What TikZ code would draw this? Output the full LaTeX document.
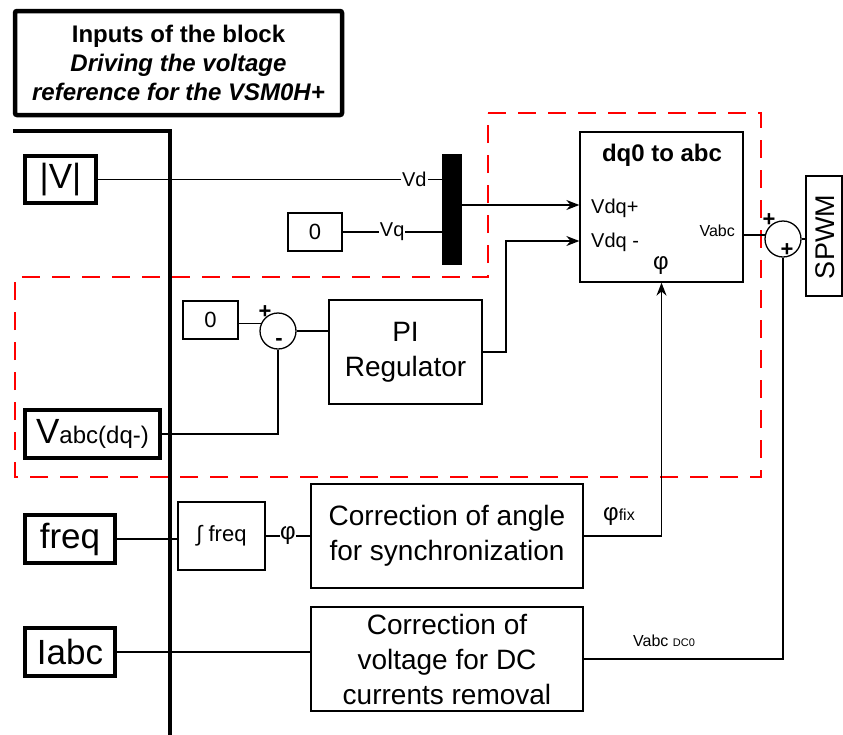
\documentclass[tikz,border=0pt]{standalone}
\usepackage{fontspec}
\setmainfont{Liberation Sans}
\usetikzlibrary{arrows.meta}
\begin{document}
\begin{tikzpicture}[x=1pt,y=-1pt,
  thin/.style={line width=1.3pt},
  arr/.style={thin,-{Stealth[length=13pt,width=10pt]}},
  box/.style={draw,thin,inner sep=0pt,align=center},
  inbox/.style={draw,line width=4pt,inner sep=0pt,align=center},
  bus/.style={line width=4.5pt},
  zone/.style={draw=red,line width=2.4pt,dash pattern=on 18pt off 12pt},
  sumc/.style={draw,thin,circle,minimum size=36pt,inner sep=0pt},
  sgn/.style={inner sep=0pt,font=\fontsize{22}{22}\selectfont\bfseries},
  lbl/.style={inner sep=1pt,fill=white},
  big/.style={font=\fontsize{28}{35}\selectfont},
  inp/.style={font=\fontsize{35}{40}\selectfont}
]
\useasboundingbox (0,0) rectangle (843,734);

% red dashed zone
\draw[zone] (488,113) -- (761,113) -- (761,477) -- (15,477) -- (15,277) -- (488,277) -- cycle;

% title
\node[draw,line width=4.5pt,rounded corners=2pt,minimum width=327pt,minimum height=104pt,inner sep=0pt,align=center,
  font=\fontsize{24}{29}\selectfont\bfseries] (title) at (178.5,63)
  {Inputs of the block\\ \itshape Driving the voltage\\ \itshape reference for the VSM0H+};

% input bus
\draw[bus] (13,131) -- (170,131) -- (170,740);

% input boxes
\node[inbox,inp,minimum width=71pt,minimum height=47pt] (V) at (60.5,179.5) {|V|};
\node[inbox,minimum width=135pt,minimum height=48pt] (Vn) at (92.5,434)
  {{\fontsize{35}{40}\selectfont V}{\fontsize{24}{28}\selectfont abc(dq-)}};
\node[inbox,inp,minimum width=90pt,minimum height=48pt] (freq) at (70,539) {freq};
\node[inbox,inp,minimum width=90pt,minimum height=48pt] (Iabc) at (70,652) {Iabc};

% blocks
\node[box,minimum width=54pt,minimum height=38pt,font=\fontsize{22}{26}\selectfont] (z1) at (315,232) {0};
\node[draw,fill=black,minimum width=19pt,minimum height=110pt,inner sep=0pt] (mux) at (451.5,209) {};
\node[box,minimum width=163pt,minimum height=150pt] (dq) at (661.5,207) {};
\node[sumc] (s2) at (783,239) {};
\node[box,minimum width=36pt,minimum height=120pt] (spwm) at (824,236) {};
\node[rotate=90,inner sep=0pt,font=\fontsize{27}{30}\selectfont] (spwmt) at (825,237) {SPWM};
\node[box,minimum width=55pt,minimum height=38pt,font=\fontsize{22}{26}\selectfont] (z2) at (210.5,320) {0};
\node[sumc] (s1) at (278,331) {};
\node[box,big,minimum width=153pt,minimum height=104pt] (PI) at (405.5,352) {PI\\Regulator};
\node[box,minimum width=87pt,minimum height=68pt,font=\fontsize{22}{26}\selectfont] (int) at (221.5,536) {∫ freq};
\node[box,big,minimum width=272pt,minimum height=104pt] (ang) at (447,536) {Correction of angle\\for synchronization};
\node[box,big,minimum width=272pt,minimum height=104pt] (dc) at (447,659) {Correction of\\voltage for DC\\currents removal};

% dq0 block texts
\node[inner sep=0pt,font=\fontsize{24}{28}\selectfont\bfseries] (dqt) at (662,155) {dq0 to abc};
\node[anchor=west,inner sep=0pt,font=\fontsize{20}{24}\selectfont] (dqp) at (591,208) {Vdq+};
\node[anchor=west,inner sep=0pt,font=\fontsize{20}{24}\selectfont] (dqm) at (591,242) {Vdq -};
\node[anchor=east,inner sep=0pt,font=\fontsize{16}{20}\selectfont] (dqo) at (735,231) {Vabc};
\node[inner sep=0pt,font=\fontsize{24}{28}\selectfont] (dqphi) at (661,266) {φ};

% signs
\node[sgn] (p1) at (265,312) {+};
\node[sgn] (m1) at (279,342) {-};
\node[sgn] (p2) at (769,220) {+};
\node[sgn] (p3) at (787,250) {+};

% connectors
\draw[thin] (V.east) -- (V.east -| mux.west) node[lbl,pos=0.92,font=\fontsize{20}{24}\selectfont] (vd) {Vd};
\draw[thin] (z1.east) -- (z1.east -| mux.west) node[lbl,pos=0.5,font=\fontsize{20}{24}\selectfont] (vq) {Vq};
\coordinate (in1) at (dq.west |- 0,205);
\coordinate (in2) at (dq.west |- 0,241);
\draw[arr] (mux.east |- in1) -- (in1);
\draw[arr] (PI.east) -- (506,352) -- (506,241) -- (in2);
\draw[thin] (s1.157 -| z2.east) -- (s1.157);
\draw[thin] (s1.east) -- (s1.east -| PI.west);
\draw[thin] (Vn.east) -| (s1.south);
\draw[thin] (s2.168 -| dq.east) -- (s2.168);
\draw[thin] (s2.east) -- (s2.east -| spwm.west);
\draw[thin] (freq.east) -- (freq.east -| int.west);
\draw[thin] (int.east) -- (ang.west) node[lbl,pos=0.5,inner sep=0pt,font=\fontsize{24}{28}\selectfont] (phi) {φ};
\draw[arr] (ang.east) -| (dq.south);
\node[anchor=west,inner sep=0pt] (phifix) at (603,517) {{\fontsize{24}{28}\selectfont φ}{\fontsize{16}{20}\selectfont fix}};
\draw[thin] (Iabc.east) -- (Iabc.east -| dc.west);
\draw[thin] (dc.east) -| (s2.south);
\node[anchor=west,inner sep=0pt] (vdc) at (633,641) {{\fontsize{16}{20}\selectfont Vabc }{\fontsize{11}{13}\selectfont DC0}};
\end{tikzpicture}
\end{document}
